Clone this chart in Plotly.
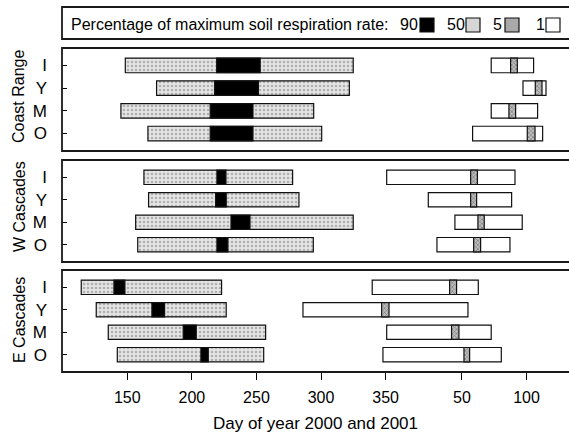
import plotly.graph_objects as go

# ---------------- data (values in the chart's continuous day axis) ----------------
SITES = ["Coast Range", "W Cascades", "E Cascades"]
STANDS = ["I", "Y", "M", "O"]
ROW_POS = [3, 2, 1, 0]

TICK_VALS = [150, 200, 250, 300, 350, 409, 459]
TICK_TEXT = ["150", "200", "250", "300", "350", "50", "100"]

# 50 % of max rate (stippled) period, per site, rows I, Y, M, O
P50_START = [[148.5, 172.7, 145.1, 166.0],
             [162.9, 166.5, 156.5, 158.1],
             [114.4, 126.0, 135.3, 142.3]]
P50_END = [[324.9, 321.9, 294.3, 300.5],
           [278.0, 282.9, 324.9, 294.0],
           [223.0, 226.6, 257.1, 255.6]]
# 90 % (black)
P90_START = [[219.2, 217.6, 214.2, 214.2],
             [219.4, 218.4, 230.3, 219.4],
             [139.7, 169.1, 193.3, 207.0]]
P90_END = [[252.9, 251.5, 247.3, 247.3],
           [226.4, 226.6, 245.0, 227.9],
           [148.2, 178.9, 203.4, 212.7]]
# 1 % (white)
P1_START = [[431.7, 456.3, 431.7, 417.3],
            [350.8, 383.0, 403.6, 389.7],
            [339.6, 286.0, 350.8, 347.9]]
P1_END = [[464.5, 474.1, 467.6, 471.5],
          [450.1, 447.5, 455.7, 446.2],
          [421.7, 413.7, 431.7, 439.5]]
# 5 % (hatched)
P5_START = [[446.7, 465.8, 445.4, 459.6],
            [415.8, 415.8, 421.4, 418.1],
            [399.5, 346.9, 401.0, 410.6]]
P5_END = [[451.9, 471.0, 450.6, 465.6],
          [421.0, 420.4, 426.3, 423.5],
          [404.9, 352.6, 406.7, 415.0]]

LEGEND_LABELS = ["90", "50", "5", "1"]

# ---------------- layout helpers ----------------
W, H = 569, 437
ML = 62
FONT = "Liberation Sans, Arial, Helvetica, sans-serif"


def px2x(px):
    return (px - ML) / (W - ML)


def py2y(py):
    return (H - py) / H


PANELS_PX = [(48, 151), (160, 262), (270, 372)]
X_RANGE = [99.5, 491.9]

STYLE = {
    "p50": dict(color="#e4e4e4", pattern=dict(shape=".", fgcolor="#7a7a7a", size=4, solidity=0.3, fillmode="overlay")),
    "p90": dict(color="#000000"),
    "p1": dict(color="#ffffff"),
    "p5": dict(color="#bdbdbd", pattern=dict(shape="x", fgcolor="#4a4a4a", size=3, solidity=0.45, fillmode="overlay")),
}

fig = go.Figure()

for k, site in enumerate(SITES):
    suffix = "" if k == 0 else str(k + 1)
    groups = [
        ("p50", P50_START[k], P50_END[k]),
        ("p90", P90_START[k], P90_END[k]),
        ("p1", P1_START[k], P1_END[k]),
        ("p5", P5_START[k], P5_END[k]),
    ]
    for key, starts, ends in groups:
        st = STYLE[key]
        marker = dict(color=st["color"], line=dict(color="#111111", width=1.2))
        if "pattern" in st:
            marker["pattern"] = st["pattern"]
        fig.add_trace(go.Bar(
            y=ROW_POS, base=starts, x=[e - s for s, e in zip(starts, ends)],
            orientation="h", width=0.64, marker=marker, showlegend=False,
            xaxis="x" + suffix, yaxis="y" + suffix, hoverinfo="skip",
        ))

layout = dict(
    width=W, height=H,
    margin=dict(l=ML, r=0, t=0, b=0),
    plot_bgcolor="white", paper_bgcolor="white",
    barmode="overlay", showlegend=False,
    font=dict(family=FONT, size=16, color="#000"),
)

for k in range(3):
    suffix = "" if k == 0 else str(k + 1)
    top, bot = PANELS_PX[k]
    xa = dict(range=X_RANGE, domain=[0, 1], anchor="y" + suffix, automargin=False,
              showgrid=False, zeroline=False, showline=False, fixedrange=True)
    if k == 2:
        xa.update(tickmode="array", tickvals=TICK_VALS, ticktext=TICK_TEXT,
                  ticks="outside", ticklen=7, tickwidth=1, tickcolor="#000",
                  tickfont=dict(size=16), ticklabelstandoff=4,
                  title=dict(text="Day of year 2000 and 2001", font=dict(size=17), standoff=11))
    else:
        xa.update(showticklabels=False, ticks="")
    ya = dict(range=[-0.77, 3.77], domain=[py2y(bot), py2y(top)], anchor="x" + suffix,
              tickmode="array", tickvals=ROW_POS, ticktext=STANDS, automargin=False,
              ticks="inside", ticklen=5, tickwidth=1, tickcolor="#000",
              tickfont=dict(size=17), ticklabelstandoff=14,
              showgrid=False, zeroline=False, showline=False, fixedrange=True)
    layout["xaxis" + suffix] = xa
    layout["yaxis" + suffix] = ya

shapes = []
annotations = []
# panel frames (the reference is cropped on the right)
for top, bot in PANELS_PX:
    shapes.append(dict(type="rect", xref="paper", yref="paper", x0=0, x1=1.05,
                       y0=py2y(bot), y1=py2y(top), line=dict(color="#1a1a1a", width=1.8),
                       fillcolor="rgba(0,0,0,0)", layer="above"))

TITLE_Y = [97, 207, 320]
for site, ty in zip(SITES, TITLE_Y):
    annotations.append(dict(text=site, xref="paper", yref="paper", x=px2x(19), y=py2y(ty),
                            textangle=-90, showarrow=False, font=dict(size=16),
                            xanchor="center", yanchor="middle"))

# legend box
shapes.append(dict(type="rect", xref="paper", yref="paper", x0=0, x1=1.05,
                   y0=py2y(39), y1=py2y(7), line=dict(color="#1a1a1a", width=1.8),
                   fillcolor="white", layer="above"))
annotations.append(dict(text="Percentage of maximum soil respiration rate:", xref="paper", yref="paper",
                        x=px2x(69), y=py2y(24), xanchor="left", yanchor="middle",
                        showarrow=False, font=dict(size=16)))
LEG_TEXT_X = [398, 445, 491, 534]
LEG_BOX_X = [420, 466, 505, 546]
LEG_FILL = ["#000000", "#d6d6d6", "#a9a9a9", "#ffffff"]
for lab, tx, bx, fc in zip(LEGEND_LABELS, LEG_TEXT_X, LEG_BOX_X, LEG_FILL):
    annotations.append(dict(text=lab, xref="paper", yref="paper", x=px2x(tx), y=py2y(24),
                            xanchor="left", yanchor="middle", showarrow=False, font=dict(size=16)))
    shapes.append(dict(type="rect", xref="paper", yref="paper", x0=px2x(bx), x1=px2x(bx + 14),
                       y0=py2y(32), y1=py2y(18), line=dict(color="#111", width=1.2),
                       fillcolor=fc, layer="above"))

layout["shapes"] = shapes
layout["annotations"] = annotations
fig.update_layout(**layout)

# remove the browser's default page margin so the figure sits at the window origin
fig.write_html("out.html", config={"displayModeBar": False},
               post_script="document.body.style.margin='0px';")
